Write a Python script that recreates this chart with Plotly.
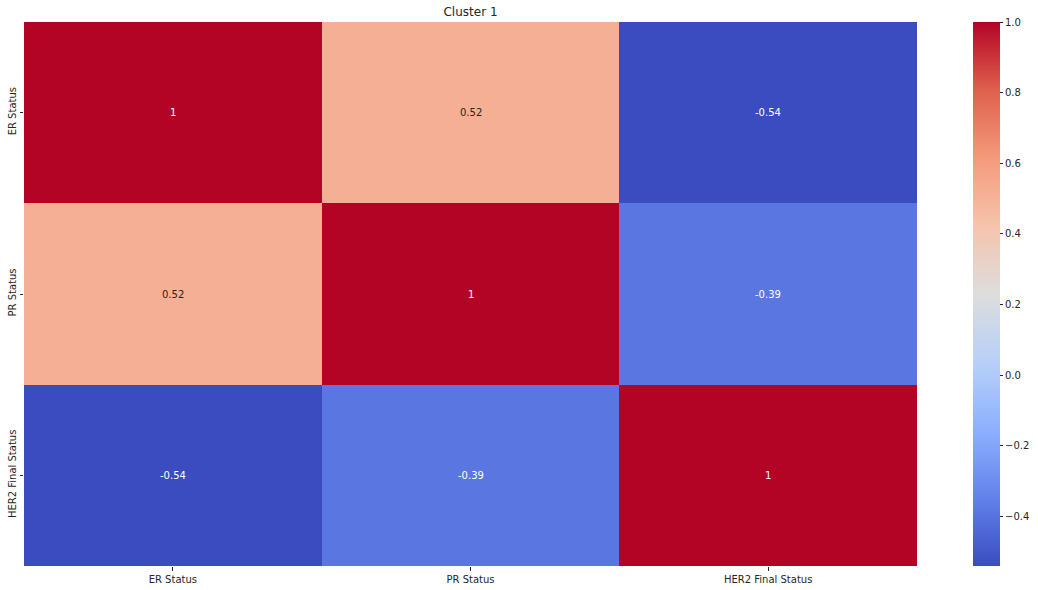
import plotly.graph_objects as go

labels = ["ER Status", "PR Status", "HER2 Final Status"]
corr = [
    [1.0, 0.52, -0.54],
    [0.52, 1.0, -0.39],
    [-0.54, -0.39, 1.0],
]
cbar_ticks = [-0.4, -0.2, 0.0, 0.2, 0.4, 0.6, 0.8, 1.0]

# matplotlib "coolwarm" sampled
coolwarm = [
    [0.0, "rgb(59,76,192)"],
    [0.125, "rgb(98,130,234)"],
    [0.25, "rgb(141,176,254)"],
    [0.375, "rgb(184,208,249)"],
    [0.5, "rgb(221,221,221)"],
    [0.625, "rgb(245,196,173)"],
    [0.75, "rgb(244,154,123)"],
    [0.875, "rgb(222,96,77)"],
    [1.0, "rgb(180,4,38)"],
]

zmin = min(min(r) for r in corr)
zmax = max(max(r) for r in corr)

fig = go.Figure()
fig.add_trace(go.Heatmap(
    z=corr, x=labels, y=labels,
    colorscale=coolwarm, zmin=zmin, zmax=zmax,
    xgap=0, ygap=0,
    colorbar=dict(
        thickness=27, len=1, lenmode="fraction",
        x=(973 - 24) / 893, xanchor="left", y=0.5, yanchor="middle",
        outlinewidth=0, ticks="outside", ticklen=3.5, tickwidth=0.8,
        tickcolor="#262626", tickvals=cbar_ticks,
        ticktext=[("\u2212" if v < 0 else "") + f"{abs(v):.1f}" for v in cbar_ticks],
        tickfont=dict(family="DejaVu Sans", size=10, color="#262626"),
        ypad=0, xpad=0,
    ),
    hoverinfo="skip",
))

for i, row in enumerate(corr):
    for j, v in enumerate(row):
        dark = 0.0 < v < 0.9
        fig.add_annotation(
            x=labels[j], y=labels[i], text=f"{v:g}", showarrow=False,
            font=dict(family="DejaVu Sans", size=10,
                      color="#262626" if dark else "white"),
        )

fig.update_layout(
    width=1038, height=590,
    margin=dict(l=24, r=121, t=22, b=24, autoexpand=False),
    paper_bgcolor="white", plot_bgcolor="white",
    title=dict(text="Cluster 1", x=(24 + 917) / 2 / 1038, xanchor="center",
               y=1 - 12 / 590, yanchor="middle",
               font=dict(family="DejaVu Sans", size=12, color="#262626")),
    font=dict(family="DejaVu Sans", size=10, color="#262626"),
)
fig.update_xaxes(showgrid=False, zeroline=False, ticks="outside", ticklen=3.5,
                 tickwidth=0.8, tickcolor="#262626", showline=False,
                 automargin=False)
fig.update_yaxes(showgrid=False, zeroline=False, ticks="outside", ticklen=3.5,
                 tickwidth=0.8, tickcolor="#262626", showline=False,
                 autorange="reversed", tickangle=-90, automargin=False)

fig.write_html("out.html", config={"displayModeBar": False},
               post_script="document.body.style.margin='0';document.body.style.overflow='hidden';")
